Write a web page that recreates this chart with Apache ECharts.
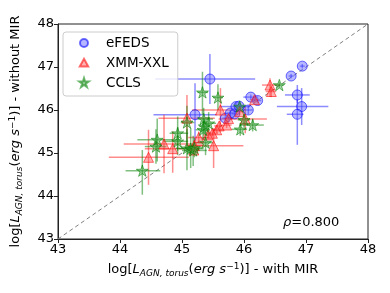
<!DOCTYPE html>
<html><head><meta charset="utf-8">
<script src="https://cdn.jsdelivr.net/npm/echarts@6/dist/echarts.min.js"></script>
<style>html,body{margin:0;padding:0;background:#fff}#c{width:390px;height:293px}</style>
</head><body><div id="c"></div>
<script>
// ---- data: x = with MIR, y = without MIR; lo/hi = error bar bounds ----
const efedsX   = [45.45,45.21,45.70,45.78,45.85,45.87,45.92,46.07,46.11,46.22,46.76,46.94,46.86,46.93,46.86];
const efedsY   = [46.72,45.89,45.81,45.93,45.91,46.08,46.09,46.00,46.30,46.22,46.79,47.02,46.35,46.08,45.90];
const efedsXlo = [44.57,44.54,45.65,45.72,45.80,45.62,45.86,46.00,45.99,46.16,46.72,46.90,46.66,46.53,46.69];
const efedsXhi = [46.18,45.56,45.76,45.84,45.90,46.10,45.98,46.14,46.23,46.28,46.80,46.98,47.06,47.36,46.96];
const efedsYlo = [46.14,45.27,45.74,45.86,45.85,45.98,46.02,45.90,46.24,46.16,46.74,46.97,46.16,45.65,45.19];
const efedsYhi = [47.30,46.62,45.88,46.00,45.98,46.18,46.16,46.10,46.36,46.28,46.84,47.07,46.58,46.51,46.24];

const xxlX   = [46.42,46.44,46.17,45.93,46.02,45.62,45.08,45.72,45.60,45.56,45.49,45.42,45.27,45.51,45.20,44.71,44.85,44.46,45.19,45.75];
const xxlY   = [46.58,46.43,46.24,45.96,45.79,46.00,45.81,45.65,45.63,45.54,45.46,45.42,45.36,45.17,45.17,45.21,45.10,44.90,45.07,45.80];
const xxlXlo = [46.29,46.35,46.10,45.85,45.59,45.16,44.62,45.65,45.52,45.48,45.40,45.34,45.10,45.08,45.05,44.06,44.40,43.82,45.10,45.68];
const xxlXhi = [46.58,46.52,46.24,46.00,46.37,45.94,45.53,45.80,45.68,45.64,45.58,45.50,45.44,45.99,45.35,45.35,45.20,45.11,45.28,45.82];
const xxlYlo = [46.30,46.30,46.18,45.88,45.46,45.50,45.19,45.58,45.55,45.46,45.38,45.34,45.25,44.65,45.05,44.53,44.54,44.26,44.98,45.72];
const xxlYhi = [46.74,46.55,46.30,46.04,46.08,46.51,46.35,45.72,45.71,45.62,45.54,45.50,45.50,45.58,45.30,45.89,45.50,45.54,45.16,45.88];

const cclsX   = [46.57,45.33,45.58,45.08,45.35,45.43,45.34,45.36,45.94,46.00,46.14,45.93,44.93,44.93,44.60,44.58,45.08,45.14,45.18,45.38,44.36,45.20];
const cclsY   = [46.58,46.41,46.29,45.71,45.79,45.69,45.54,45.62,45.55,45.77,45.65,46.08,45.46,45.27,45.31,45.15,45.11,45.10,45.06,45.24,44.59,45.12];
const cclsXlo = [46.50,45.25,45.50,44.98,45.25,45.33,45.22,45.28,45.80,45.90,45.94,45.85,44.80,44.70,44.28,44.40,44.90,44.95,45.00,45.25,44.09,45.05];
const cclsXhi = [46.64,45.42,45.66,45.20,45.50,45.55,45.45,45.45,46.05,46.10,46.32,46.02,45.10,45.10,44.98,44.75,45.28,45.35,45.40,45.50,44.65,45.32];
const cclsYlo = [46.52,45.89,46.00,45.25,45.50,45.45,45.30,45.45,45.40,45.60,45.50,45.98,45.05,44.95,44.80,44.75,44.60,44.65,44.70,44.95,44.03,44.90];
const cclsYhi = [46.64,46.89,46.60,46.10,46.05,45.95,45.80,45.80,45.70,45.95,45.80,46.18,45.85,45.60,45.80,45.55,45.55,45.58,45.40,45.50,45.07,45.35];

const axisTicks = [43,44,45,46,47,48];
const rhoText = '0.800';

function rows(x,y,xlo,xhi,ylo,yhi){return x.map((v,i)=>[v,y[i],xlo[i],xhi[i],ylo[i],yhi[i]]);}
const dE = rows(efedsX,efedsY,efedsXlo,efedsXhi,efedsYlo,efedsYhi);
const dX = rows(xxlX,xxlY,xxlXlo,xxlXhi,xxlYlo,xxlYhi);
const dC = rows(cclsX,cclsY,cclsXlo,cclsXhi,cclsYlo,cclsYhi);

const STARP = 'M0,-100 L22.3,-30.7 L95.1,-30.9 L36.1,11.7 L58.8,80.9 L0,38 L-58.8,80.9 L-36.1,11.7 L-95.1,-30.9 L-22.3,-30.7 Z';
const STAR = 'path://' + STARP;
// legend icons: invisible moveTo extents keep the shape centred in a wide item box
const PADL = 'M-340,-100 M340,100 ';
const L_CIRC = 'path://' + PADL + 'M0,-80 A80,80 0 1,1 0,80 A80,80 0 1,1 0,-80 Z';
const L_TRI  = 'path://' + PADL + 'M0,-85 L85,70 L-85,70 Z';
const L_STAR = 'path://' + PADL + STARP;

function errSeries(name,data,color){
  return {name:name,type:'custom',data:data,encode:{x:0,y:1},z:2,silent:true,
    renderItem:function(params,api){
      const a=api.coord([api.value(2),api.value(1)]);
      const b=api.coord([api.value(3),api.value(1)]);
      const u=api.coord([api.value(0),api.value(4)]);
      const w=api.coord([api.value(0),api.value(5)]);
      const st={stroke:color,lineWidth:1.5};
      return {type:'group',children:[
        {type:'line',shape:{x1:a[0],y1:a[1],x2:b[0],y2:b[1]},style:st},
        {type:'line',shape:{x1:u[0],y1:u[1],x2:w[0],y2:w[1]},style:st}
      ]};
    }};
}

const font='DejaVu Sans';
const nameRich={
  i:{fontStyle:'italic',fontSize:13,fontFamily:font,color:'#000'},
  sub:{fontStyle:'italic',fontSize:9,fontFamily:font,color:'#000',verticalAlign:'bottom',padding:[7,0,0,0]},
  sup:{fontSize:9,fontFamily:font,color:'#000',verticalAlign:'top',padding:[0,0,7,0]}
};
function axisName(suffix){return 'log[{i|L}{sub|AGN, torus}({i|erg s}{sup|−1})] - '+suffix;}

const chart=echarts.init(document.getElementById('c'));
chart.setOption({
  animation:false,
  textStyle:{fontFamily:font},
  grid:{left:57,right:22,top:24,bottom:54,show:true,borderColor:'#222',borderWidth:1},
  xAxis:{type:'value',min:43,max:48,interval:1,
    name:axisName('with MIR'),nameLocation:'middle',nameGap:23,
    nameTextStyle:{fontSize:13,color:'#000',fontFamily:font,rich:nameRich},
    axisLine:{show:true,lineStyle:{color:'#222'}},
    axisTick:{show:true,length:4,lineStyle:{color:'#222'}},
    axisLabel:{fontSize:13,color:'#000',margin:4,fontFamily:font,
      formatter:v=>axisTicks.includes(v)?String(v):''},
    splitLine:{show:false}},
  yAxis:{type:'value',min:43,max:48,interval:1,
    name:axisName('without MIR'),nameLocation:'middle',nameGap:34,
    nameTextStyle:{fontSize:13,color:'#000',fontFamily:font,rich:nameRich},
    axisLine:{show:true,lineStyle:{color:'#222'}},
    axisTick:{show:true,length:4,lineStyle:{color:'#222'}},
    axisLabel:{fontSize:13,color:'#000',margin:4,fontFamily:font,
      formatter:v=>axisTicks.includes(v)?String(v):''},
    splitLine:{show:false}},
  legend:{data:[{name:'eFEDS',icon:L_CIRC},{name:'XMM-XXL',icon:L_TRI},{name:'CCLS',icon:L_STAR}],
    orient:'vertical',left:63,top:32,symbolKeepAspect:true,
    padding:[4,9,6,3],itemGap:6,itemWidth:34,itemHeight:10,
    borderColor:'#ccc',borderWidth:1,borderRadius:3,backgroundColor:'rgba(255,255,255,0.8)',
    textStyle:{fontSize:13.5,color:'#000',fontFamily:font,lineHeight:14}},
  series:[
    {name:'diag',type:'line',data:[[43,43],[48,48]],showSymbol:false,silent:true,z:1,
      lineStyle:{color:'#808080',type:[4,3],width:1}},
    errSeries('eErr',dE,'rgba(0,0,255,0.45)'),
    errSeries('xErr',dX,'rgba(255,0,0,0.45)'),
    errSeries('cErr',dC,'rgba(0,128,0,0.5)'),
    {name:'eFEDS',type:'scatter',data:dE,encode:{x:0,y:1},symbol:'circle',symbolSize:10,z:3,
      symbolKeepAspect:true,
      itemStyle:{color:'rgba(90,90,255,0.55)',borderColor:'rgba(0,0,255,0.7)',borderWidth:1}},
    {name:'XMM-XXL',type:'scatter',data:dX,encode:{x:0,y:1},symbol:'triangle',symbolSize:10,z:3,
      symbolKeepAspect:true,
      itemStyle:{color:'rgba(255,80,80,0.55)',borderColor:'rgba(255,0,0,0.7)',borderWidth:1}},
    {name:'CCLS',type:'scatter',data:dC,encode:{x:0,y:1},symbol:STAR,symbolSize:12,z:3,
      symbolKeepAspect:true,
      itemStyle:{color:'rgba(60,160,60,0.55)',borderColor:'rgba(0,128,0,0.7)',borderWidth:1}}
  ],
  graphic:[{type:'text',left:283,top:216,
    style:{text:'{i|ρ}='+rhoText,fontSize:13,fill:'#000',fontFamily:font,
      rich:{i:{fontStyle:'italic',fontSize:13,fontFamily:font}}}}]
});
</script></body></html>
